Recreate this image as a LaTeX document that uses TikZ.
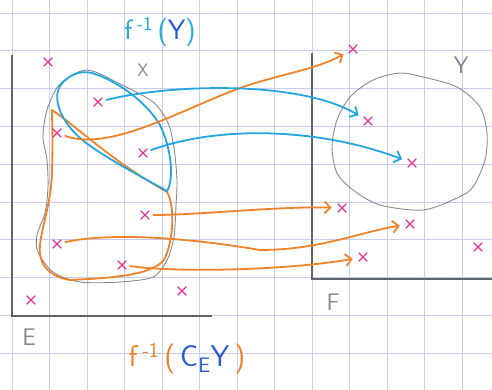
\documentclass[tikz,border=0pt]{standalone}
\usetikzlibrary{arrows.meta,shapes.misc}
\definecolor{gridc}{RGB}{200,205,240}
\definecolor{fblue}{RGB}{35,165,225}
\definecolor{dblue}{RGB}{40,90,210}
\definecolor{orng}{RGB}{240,130,40}
\definecolor{pinkc}{RGB}{230,50,150}
\definecolor{greyo}{RGB}{135,138,142}
\definecolor{boxc}{RGB}{95,100,105}
\tikzset{
  xm/.style={cross out, draw=pinkc, line width=1.1pt, minimum size=7.5pt, inner sep=0pt},
  oarr/.style={draw=orng, line width=1.8pt, line cap=round, line join=round, -{Straight Barb[length=6pt,width=12pt]}, shorten >=6pt, shorten <=4pt},
  barr/.style={draw=fblue, line width=1.8pt, line cap=round, line join=round, -{Straight Barb[length=6pt,width=12pt]}, shorten >=6pt, shorten <=4pt},
  glabel/.style={text=greyo, font=\fontsize{24}{26}\sffamily},
}
\begin{document}
\begin{tikzpicture}[x=1pt,y=-1pt]
\useasboundingbox (0,0) rectangle (492,390);
\fill[white] (0,0) rectangle (492,390);
% grid
\foreach \k in {0,...,12} \draw[gridc, line width=0.9pt] ({12+37.5*\k},0) -- ({12+37.5*\k},390);
\foreach \k in {0,...,9} \draw[gridc, line width=0.9pt] (0,{13+37.8*\k}) -- (492,{13+37.8*\k});
% boxes
\draw[boxc, line width=1.3pt] (12,55) -- (12,316) -- (212,316);
\draw[boxc, line width=1.3pt] (312,53) -- (312,279) -- (492,279);
% Y circle
\draw[greyo, line width=0.9pt] plot[smooth cycle] coordinates {(400,73) (423,77) (457,87) (480,107) (487,133) (485,160) (473,187) (457,198) (423,210) (380,205) (353,190) (337,173) (332,147) (337,120) (350,97) (373,80)};
% grey outline of X
\draw[greyo, line width=0.9pt] plot[smooth cycle] coordinates {(87,70) (120,84) (153,102) (168,123) (174,148) (177,180) (176,205) (174,237) (167,260) (153,277) (120,282) (80,282) (53,272) (38,252) (37,235) (45,213) (48,187) (47,160) (43,137) (47,110) (60,84)};
% orange region
\draw[orng, line width=1.8pt, line join=round] (52,110) .. controls (75,125) and (110,160) .. (167,192)
  .. controls (175,205) and (174,240) .. (164,260) .. controls (150,276) and (110,278) .. (70,280)
  .. controls (45,276) and (38,260) .. (40,245) .. controls (42,225) and (52,200) .. (52,170)
  .. controls (53,140) and (52,120) .. (52,110) -- cycle;
% blue region
\draw[fblue, line width=1.8pt, line join=round] (167,191) .. controls (140,176) and (100,155) .. (80,138)
  .. controls (62,122) and (52,100) .. (60,86) .. controls (68,75) and (80,70) .. (92,73)
  .. controls (115,80) and (145,100) .. (160,125) .. controls (172,150) and (174,180) .. (167,191) -- cycle;
% crosses
\node[xm] (x1) at (48,62) {};
\node[xm] (x2) at (98,102) {};
\node[xm] (x3) at (57,133) {};
\node[xm] (x4) at (143,153) {};
\node[xm] (x5) at (145,215) {};
\node[xm] (x6) at (57,244) {};
\node[xm] (x7) at (122,265) {};
\node[xm] (x8) at (31,300) {};
\node[xm] (x9) at (182,291) {};
\node[xm] (x10) at (353,49) {};
\node[xm] (x11) at (368,121) {};
\node[xm] (x12) at (412,163) {};
\node[xm] (x13) at (342,208) {};
\node[xm] (x14) at (410,224) {};
\node[xm] (x15) at (363,257) {};
\node[xm] (x16) at (478,247) {};
% orange arrows
\draw[oarr] (x3) .. controls (110,152) and (180,110) .. (240,88) .. controls (280,74) and (315,70) .. (x10);
\draw[oarr] (x5) .. controls (200,215) and (280,206) .. (x13);
\draw[oarr] (x6) .. controls (110,232) and (190,238) .. (260,250) .. controls (320,250) and (360,232) .. (x14);
\draw[oarr] (x7) .. controls (180,273) and (290,270) .. (x15);
% blue arrows
\draw[barr] (x2) .. controls (170,84) and (300,80) .. (x11);
\draw[barr] (x4) .. controls (220,125) and (320,128) .. (x12);
% labels
\node[glabel, font=\fontsize{18}{20}\sffamily] (lX) at (143,70) {X};
\node[glabel] (lY) at (461,65) {Y};
\node[glabel] (lE) at (29,337) {E};
\node[glabel] (lF) at (333,302) {F};
\node[font=\fontsize{28}{30}\sffamily] (t1) at (160,32) {\textcolor{fblue}{f\,\textsuperscript{-1}\,(}\textcolor{dblue}{Y}\textcolor{fblue}{)}};
\node[font=\fontsize{30}{32}\sffamily] (t2) at (187,359) {\textcolor{orng}{f\,\textsuperscript{-1}\,(\,}\textcolor{dblue}{C\textsubscript{E}Y}\textcolor{orng}{\,)}};
\end{tikzpicture}
\end{document}
